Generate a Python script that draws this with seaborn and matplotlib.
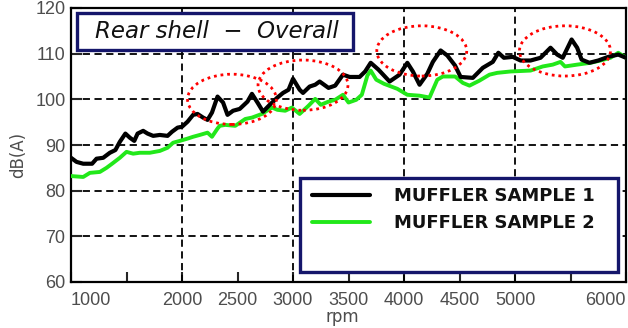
import matplotlib
matplotlib.use("Agg")
import matplotlib.pyplot as plt
from matplotlib.patches import Ellipse, Rectangle
import seaborn as sns
import pandas as pd

# ---- data ----
rpm_s1 = [1000, 1050, 1110, 1190, 1230, 1290, 1350, 1400, 1440, 1490, 1530, 1570,
          1600, 1650, 1690, 1740, 1800, 1870, 1910, 1960, 2000, 2050, 2100, 2140,
          2190, 2230, 2270, 2320, 2370, 2410, 2460, 2520, 2590, 2630, 2680, 2730,
          2790, 2860, 2910, 2960, 3000, 3060, 3090, 3150, 3200, 3240, 3320, 3380,
          3450, 3510, 3600, 3650, 3700, 3770, 3870, 3960, 4030, 4080, 4140, 4210,
          4260, 4330, 4390, 4460, 4510, 4620, 4710, 4800, 4850, 4900, 4980, 5050,
          5140, 5230, 5320, 5380, 5430, 5510, 5560, 5600, 5670, 5750, 5840, 5930, 6000]
db_s1 = [87.2, 86.3, 85.9, 85.9, 87.0, 87.2, 88.3, 88.9, 90.7, 92.5, 91.6, 90.9,
         92.5, 93.1, 92.5, 92.0, 92.2, 92.0, 92.9, 93.8, 94.0, 95.1, 96.6, 96.8,
         96.0, 95.5, 97.1, 100.6, 99.3, 96.6, 97.5, 97.9, 99.5, 101.2, 99.3, 97.3,
         98.8, 100.4, 101.4, 102.1, 104.5, 102.1, 101.4, 102.8, 103.2, 103.9, 102.5, 103.0,
         105.4, 104.9, 104.9, 106.1, 108.0, 106.5, 103.9, 105.4, 108.0, 106.1, 103.2, 105.6,
         108.2, 110.7, 109.6, 107.4, 104.9, 104.7, 106.9, 108.2, 110.2, 109.1, 109.3, 108.5,
         108.5, 109.1, 111.3, 109.8, 109.1, 113.1, 111.3, 108.7, 108.0, 108.5, 109.3, 109.8, 109.1]

rpm_s2 = [1000, 1110, 1170, 1260, 1320, 1370, 1440, 1500, 1560, 1620, 1710, 1800,
          1870, 1920, 1980, 2050, 2100, 2160, 2230, 2270, 2320, 2340, 2390, 2480,
          2570, 2630, 2720, 2810, 2860, 2930, 2990, 3060, 3140, 3200, 3250, 3320,
          3380, 3450, 3500, 3570, 3620, 3670, 3700, 3750, 3820, 3940, 4030, 4140,
          4230, 4300, 4350, 4460, 4530, 4590, 4680, 4770, 4840, 4960, 5140, 5250,
          5340, 5410, 5450, 5560, 5680, 5770, 5860, 5930, 6000]
db_s2 = [83.2, 83.0, 83.9, 84.1, 85.0, 85.9, 87.2, 88.5, 88.1, 88.3, 88.3, 88.7,
         89.4, 90.5, 90.9, 91.4, 91.8, 92.2, 92.7, 91.8, 93.6, 94.2, 94.4, 94.2,
         95.7, 96.0, 96.8, 98.2, 97.7, 97.5, 98.2, 96.8, 98.6, 100.1, 98.8, 99.5,
         99.9, 101.0, 99.3, 99.9, 101.0, 105.2, 106.3, 104.3, 103.4, 102.3, 101.0, 100.8,
         100.4, 104.3, 105.0, 105.0, 103.6, 103.0, 104.1, 105.4, 105.8, 106.1, 106.3, 107.2,
         107.6, 108.2, 107.2, 107.6, 108.0, 108.5, 109.1, 110.2, 109.1]

series_names = ["MUFFLER SAMPLE 1", "MUFFLER SAMPLE 2"]
title_text = "Rear shell  \u2212  Overall"
x_ticks = [1000, 1500, 2000, 2500, 3000, 3500, 4000, 4500, 5000, 5500, 6000]
x_tick_labels = ["1000", "", "2000", "2500", "3000", "3500", "4000", "4500", "5000", "", "6000"]
x_grid = [2000, 3000, 4000, 5000]
y_ticks = [60, 70, 80, 90, 100, 110, 120]
# highlighted regions: (center rpm, center dB, width rpm, height dB)
hl_cx = [2450, 3090, 4160, 5450]
hl_cy = [100.0, 103.1, 110.6, 110.6]
hl_w = [800, 810, 810, 820]
hl_h = [11.0, 11.0, 11.0, 11.0]

# ---- styling ----
sns.set_theme(style="white")
plt.rcParams["font.family"] = ["DejaVu Sans"]

fig = plt.figure(figsize=(6.28, 3.28), dpi=100)
ax = fig.add_axes([71 / 628, 46 / 328, 555 / 628, 274 / 328])

df1 = pd.DataFrame({"rpm": rpm_s1, "dB": db_s1})
df2 = pd.DataFrame({"rpm": rpm_s2, "dB": db_s2})
sns.lineplot(data=df2, x="rpm", y="dB", ax=ax, color="#22e81a", lw=2.8,
             estimator=None, zorder=4, solid_joinstyle="round")
sns.lineplot(data=df1, x="rpm", y="dB", ax=ax, color="black", lw=3.0,
             estimator=None, zorder=5, solid_joinstyle="round")
line_s2, line_s1 = ax.get_lines()[0], ax.get_lines()[1]

ax.set_xlim(1000, 6000)
ax.set_ylim(60, 120)

ax.xaxis.remove_overlapping_locs = False
ax.set_xticks(x_ticks)
ax.set_xticklabels(x_tick_labels)
ax.set_xticks(x_grid, minor=True)
ax.set_yticks(y_ticks)

for lab in ax.get_xticklabels() + ax.get_yticklabels():
    lab.set_fontfamily("Liberation Sans")
    lab.set_fontsize(13)
    lab.set_color("#4d4d4d")
xl = ax.get_xticklabels()
xl[0].set_horizontalalignment("left")
xl[-1].set_horizontalalignment("right")

ax.tick_params(axis="x", which="major", direction="in", length=7, width=1.5,
               pad=7, bottom=True)
ax.tick_params(axis="x", which="minor", length=0)
ax.tick_params(axis="y", which="major", direction="in", length=8, width=1.5,
               pad=4, left=True)

ax.grid(False)
ax.xaxis.grid(True, which="minor", color="black", lw=1.3, ls=(0, (4, 2.5)))
ax.yaxis.grid(True, which="major", color="black", lw=1.3, ls=(0, (4, 2.5)))
ax.set_axisbelow(True)

for sp in ax.spines.values():
    sp.set_visible(True)
    sp.set_color("black")
    sp.set_linewidth(1.6)

ax.set_xlabel("rpm", fontsize=12, color="#4d4d4d")
ax.set_ylabel("dB(A)", fontsize=12, color="#4d4d4d")
ax.xaxis.set_label_coords((342 - 71) / 555, (282 - 308) / 274)
ax.yaxis.set_label_coords((27 - 71) / 555, (282 - 155) / 274)

# red dotted highlight ellipses
for cx, cy, w, h in zip(hl_cx, hl_cy, hl_w, hl_h):
    ax.add_patch(Ellipse((cx, cy), w, h, fill=False, edgecolor="#ff0000",
                         lw=2.0, ls=(0, (1, 1.4)), zorder=6))

navy = "#15166b"
# title box
ax.add_patch(Rectangle(((77 - 71) / 555, (282 - 50) / 274), (353 - 77) / 555, 37 / 274,
                       transform=ax.transAxes, facecolor="white", edgecolor=navy,
                       lw=2.4, zorder=7))
ax.text((217 - 71) / 555, (282 - 31) / 274, title_text, transform=ax.transAxes,
        ha="center", va="center", fontsize=16.5, style="italic",
        family="DejaVu Sans", color="#111111", zorder=8)

# legend box
ax.add_patch(Rectangle(((300 - 71) / 555, (282 - 272) / 274), (618 - 300) / 555,
                       (272 - 178) / 274, transform=ax.transAxes,
                       facecolor="white", edgecolor=navy, lw=2.4, zorder=7))
leg = ax.legend([line_s1, line_s2], series_names, loc="upper left",
                bbox_to_anchor=((312 - 71) / 555, (282 - 187) / 274),
                frameon=False, borderpad=0, borderaxespad=0,
                handlelength=3.2, handletextpad=1.35, labelspacing=0.52,
                prop={"family": "DejaVu Sans", "weight": "bold", "size": 13})
leg.set_zorder(9)
for t in leg.get_texts():
    t.set_color("#111111")

fig.savefig("out.png", dpi=100)
